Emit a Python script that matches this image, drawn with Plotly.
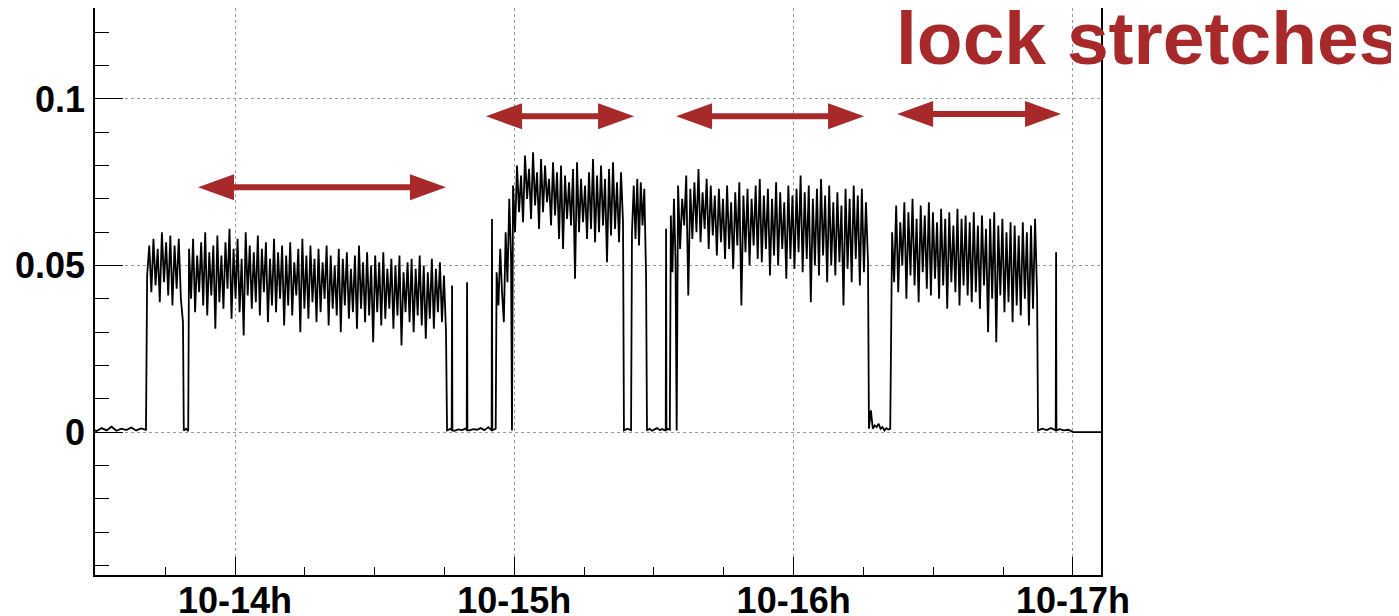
import plotly.graph_objects as go

# ---------------- data (time in hours after 10-14 00:00, values in units of 1e-3) -------------
base_pre = [0.8, 0.3, 1.2, 0.5, 1.6, 0.4, 1.0, 0.6, 1.4, 0.5, 1.1, 0.7]
lock1a = [47, 56, 42, 58, 44, 55, 39, 60, 45, 57, 41, 59, 38, 56, 43, 58, 40, 33]
gap1 = [0.5, 1.0, 0.3]
lock1 = [55, 40, 58, 36, 53, 42, 57, 38, 60, 35, 54, 41, 56, 31, 59, 39,
         53, 37, 57, 43, 61, 34, 55, 40, 58, 36, 52, 29, 60, 41, 56, 37,
         54, 39, 59, 35, 55, 42, 57, 33, 52, 38, 58, 36, 54, 40, 56, 32,
         53, 38, 57, 35, 51, 41, 55, 30, 58, 37, 53, 34, 56, 39, 52, 33,
         55, 36, 51, 40, 56, 32, 53, 37, 50, 35, 55, 30, 52, 38, 54, 34,
         49, 36, 53, 31, 56, 37, 51, 33, 54, 35, 50, 27, 53, 36, 51, 32,
         54, 34, 49, 37, 52, 31, 50, 35, 53, 26, 48, 36, 51, 33, 52, 30,
         49, 35, 53, 32, 50, 28, 48, 34, 52, 31, 49, 36, 51, 33, 47, 30]
gap2 = [0.5, 1.0, 0.4, 0.8, 0.6, 1.1, 0.5, 0.9, 0.7, 1.2, 0.6, 1.5, 2.0, 1.0]
lock2a = [48, 38, 55, 42, 33, 60, 45, 70, 52]
dip2 = [0.5]
lock2 = [74, 60, 80, 66, 77, 63, 83, 70, 79, 64, 84, 68, 78, 61, 82, 66, 80, 69, 76, 62,
         81, 65, 78, 58, 80, 55, 77, 64, 75, 62, 79, 46, 81, 60, 76, 63, 74, 58, 78, 61,
         82, 57, 77, 60, 80, 62, 76, 51, 79, 59, 81, 61, 75, 57, 78, 63]
gap3 = [0.5, 1.0, 0.6]
lock2b = [60, 74, 58, 76, 56, 75, 62, 73, 47]
gap4 = [0.5, 1.0, 0.4, 0.8, 1.2, 0.6, 0.9, 0.5, 1.0, 0.7]
lock3a = [65, 48, 70, 52]
dip3 = [0.5]
lock3 = [74, 55, 70, 62, 77, 41, 73, 58, 75, 60, 79, 57, 72, 61, 76, 55, 74, 59, 71, 53,
         73, 57, 70, 52, 74, 55, 69, 49, 72, 56, 75, 38, 71, 54, 73, 50, 70, 56, 74, 52,
         76, 51, 71, 55, 73, 47, 70, 53, 75, 50, 72, 55, 69, 46, 74, 52, 71, 49, 73, 54,
         77, 48, 72, 52, 74, 39, 70, 50, 73, 47, 76, 53, 71, 45, 74, 50, 69, 47,
         72, 51, 68, 38, 73, 49, 70, 45, 74, 52, 71, 44, 73, 48, 69, 51]
gap5 = [1.0, 6.5, 1.0, 2.0, 1.5, 2.5, 1.0, 1.5, 0.5, 1.2, 0.8, 1.0]
lock4 = [60, 45, 68, 42, 63, 50, 69, 40, 66, 47, 70, 44, 64, 39, 68, 48, 65, 43, 69, 41,
         66, 46, 63, 40, 67, 44, 64, 37, 66, 45, 62, 42, 67, 38, 64, 44, 65, 41, 63, 39,
         66, 42, 62, 37, 65, 44, 61, 30, 64, 40, 66, 27, 62, 41, 64, 36, 60, 39, 63, 33,
         62, 38, 59, 35, 63, 40, 60, 32, 62, 37, 64, 41]
gap6 = [0.5, 1.0, 0.6, 1.2, 0.4, 0.9, 0.5, 0.7]
tail = [0, 0, 0, 0]

# (start hour, end hour, values)
segments = [
    (-12.3, -7.65, base_pre), (-7.55, -4.47, lock1a), (-4.40, -4.02, gap1),
    (-3.95, 18.13, lock1), (18.22, 22.40, gap2), (22.48, 23.72, lock2a),
    (23.80, 23.80, dip2), (23.89, 33.34, lock2), (33.42, 34.03, gap3),
    (34.11, 35.32, lock2b), (35.40, 37.36, gap4), (37.45, 37.85, lock3a),
    (37.95, 37.95, dip3), (38.07, 54.39, lock3), (54.47, 56.30, gap5),
    (56.46, 68.92, lock4), (69.00, 71.60, gap6), (72.00, 76.00, tail),
]
spike_t = [18.65, 19.94, 22.08, 37.04, 70.55]
spike_v = [44, 45, 64, 61, 54]

# lock-stretch arrows (hours) and their heights
arrow_start = [-3.18, 21.57, 37.90, 56.89]
arrow_end = [18.13, 34.29, 54.05, 70.98]
arrow_y = [0.0735, 0.0948, 0.0948, 0.0955]

x_ticks = [0, 24, 48, 72]
x_labels = ["10-14h", "10-15h", "10-16h", "10-17h"]
y_ticks = [0, 0.05, 0.1]
y_labels = ["0", "0.05", "0.1"]

# ---------------- build the series -------------
pts = []
for t0, t1, vals in segments:
    n = len(vals)
    for i, v in enumerate(vals):
        t = t0 if n == 1 else t0 + (t1 - t0) * i / (n - 1)
        if any(abs(t - s) < 0.06 for s in spike_t):
            continue
        pts.append((t, v))
for s, v in zip(spike_t, spike_v):
    pts += [(s - 0.03, 0.5), (s, v), (s + 0.03, 0.5)]
pts.sort(key=lambda p: p[0])
xs = [p[0] for p in pts]
ys = [p[1] * 1e-3 for p in pts]

RED = "#A8292A"
FONT = "Liberation Sans, Arial, Helvetica, sans-serif"

fig = go.Figure()
fig.add_trace(go.Scatter(x=xs, y=ys, mode="lines",
                         line=dict(color="black", width=1.8), showlegend=False,
                         hoverinfo="skip"))

shapes = []
for a, b, y in zip(arrow_start, arrow_end, arrow_y):
    shapes.append(dict(type="line", xref="x", yref="y", x0=a + 2.0, x1=b - 2.0,
                       y0=y, y1=y, line=dict(color=RED, width=6), layer="above"))
    shapes.append(dict(type="path", xref="x", yref="y", xsizemode="pixel",
                       ysizemode="pixel", xanchor=a, yanchor=y,
                       path="M0,0 L36,13 L36,-13 Z", fillcolor=RED,
                       line=dict(width=0), layer="above"))
    shapes.append(dict(type="path", xref="x", yref="y", xsizemode="pixel",
                       ysizemode="pixel", xanchor=b, yanchor=y,
                       path="M0,0 L-36,13 L-36,-13 Z", fillcolor=RED,
                       line=dict(width=0), layer="above"))

# the page body adds an 8px offset, so the figure is 8px smaller and shifted
fig.update_layout(
    width=1391, height=608,
    margin=dict(l=87, r=298, t=0, b=41, autoexpand=False),
    paper_bgcolor="white", plot_bgcolor="white",
    shapes=shapes,
    annotations=[dict(text="lock stretches", xref="paper", yref="paper",
                      x=0.7942, y=0.869, xanchor="left", yanchor="bottom",
                      showarrow=False,
                      font=dict(family=FONT, size=75, color=RED, weight="bold"))],
)
fig.update_xaxes(
    range=[-12.03, 74.41], tickmode="array", tickvals=x_ticks, ticktext=x_labels,
    ticks="inside", ticklen=18, tickwidth=1, tickcolor="black",
    minor=dict(dtick=6, tick0=0, ticks="inside", ticklen=8, tickwidth=1,
               tickcolor="black", showgrid=False),
    showgrid=True, gridcolor="#9a9a9a", griddash="dot", gridwidth=1,
    showline=True, linecolor="black", linewidth=1.5, mirror=True,
    zeroline=False, ticklabelstandoff=-7,
    tickfont=dict(family=FONT, size=36, color="black", weight="bold"),
)
fig.update_yaxes(
    range=[-0.0429, 0.1273], tickmode="array", tickvals=y_ticks, ticktext=y_labels,
    ticks="inside", ticklen=28, tickwidth=1, tickcolor="black",
    minor=dict(dtick=0.01, tick0=0, ticks="inside", ticklen=14, tickwidth=1,
               tickcolor="black", showgrid=False),
    showgrid=True, gridcolor="#9a9a9a", griddash="dot", gridwidth=1,
    showline=True, linecolor="black", linewidth=1.5, mirror=True,
    zeroline=False, ticklabelstandoff=1,
    tickfont=dict(family=FONT, size=36, color="black", weight="bold"),
)

fig.write_html("out.html")
